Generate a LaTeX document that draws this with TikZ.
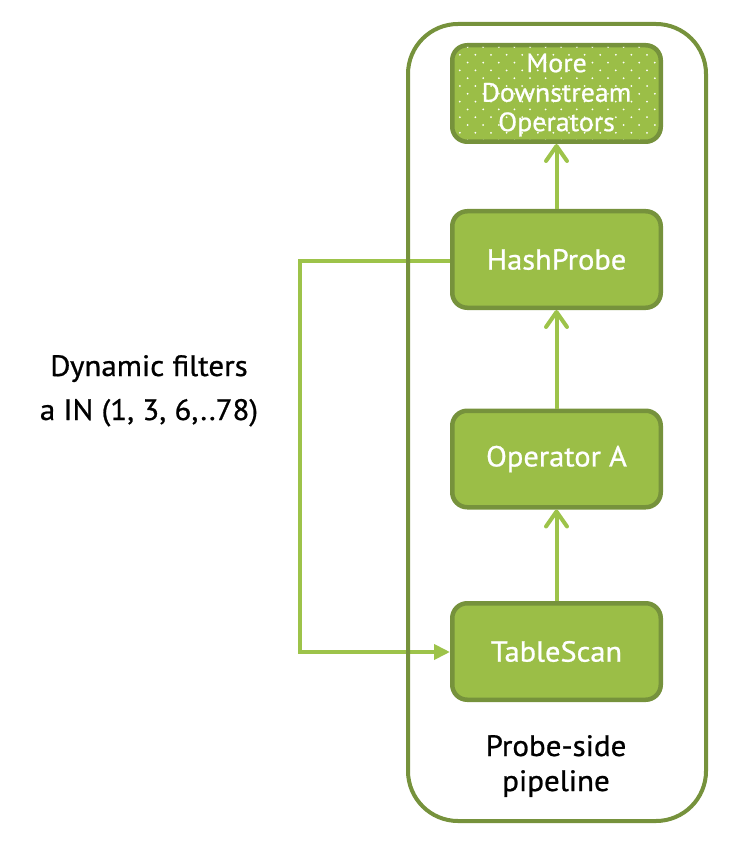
\documentclass[tikz,border=0pt]{standalone}
\usepackage{fontspec}
\setmainfont{PT Sans}[FakeBold=0.8,FakeStretch=1.05]
\usetikzlibrary{arrows.meta}
\definecolor{boxfill}{HTML}{9BBE47}
\definecolor{boxline}{HTML}{76923C}
\definecolor{arrowc}{HTML}{9DC34A}
\begin{document}
\begin{tikzpicture}[x=1pt,y=-1pt,
  opbox/.style={draw=boxline, line width=4.5pt, fill=boxfill, rounded corners=15pt,
    minimum width=208.5pt, minimum height=96.5pt, inner sep=0pt, text=white,
    font=\fontsize{29}{33}\selectfont},
  flow/.style={draw=arrowc, line width=4pt,
    -{Straight Barb[length=15pt,width=21pt,line cap=round,line join=round]}},
  feed/.style={draw=arrowc, line width=3.8pt, -{Triangle[length=16pt,width=15pt]}},
  plain/.style={text=black, font=\fontsize{29.5}{35}\selectfont, inner sep=0pt}]
\path[use as bounding box] (0,0) rectangle (736,842);

% operators
\node[opbox] (more) at (556.5,93.5) {};
\begin{scope}
  \clip[rounded corners=13pt] (454,47) rectangle (659,140);
  \foreach \i in {0,...,12} {
    \pgfmathsetmacro{\off}{mod(\i,2)*7.8}
    \foreach \j in {0,...,14} {
      \fill[white] (452+\j*15.6+\off,47+\i*7.8) circle (1pt);
    }
  }
\end{scope}
\node[text=white, font=\fontsize{26.5}{29.5}\selectfont, align=center, inner sep=0pt]
  (moretext) at (556.5,95) {More\\Downstream\\Operators};
\node[opbox] (hash) at (556.5,259.5) {HashProbe};
\node[opbox] (opa) at (556.5,459) {Operator A};
\node[opbox] (scan) at (556.5,651.5) {TableScan};

% flow arrows
\draw[flow] (scan.north) -- (opa.south);
\draw[flow] (opa.north) -- (hash.south);
\draw[flow] (hash.north) -- (more.south);

% dynamic filter feedback
\coordinate (ftop) at (300,261);
\coordinate (fbot) at (300,652);
\draw[feed] (hash.west |- ftop) -- (ftop) -- (fbot) -- (scan.west |- fbot);

% pipeline container
\node[draw=boxline, line width=4pt, rounded corners=50pt, minimum width=298pt,
  minimum height=797pt, inner sep=0pt] (pipe) at (557,422.5) {};

% labels
\node[plain, anchor=base] (dyn) at (149,376) {Dynamic filters};
\node[plain, anchor=base] (expr) at (149,420) {a IN (1, 3, 6,..78)};
\node[plain, anchor=base, align=center] (cap) at (556,791) {Probe-side\\pipeline};
\end{tikzpicture}
\end{document}
